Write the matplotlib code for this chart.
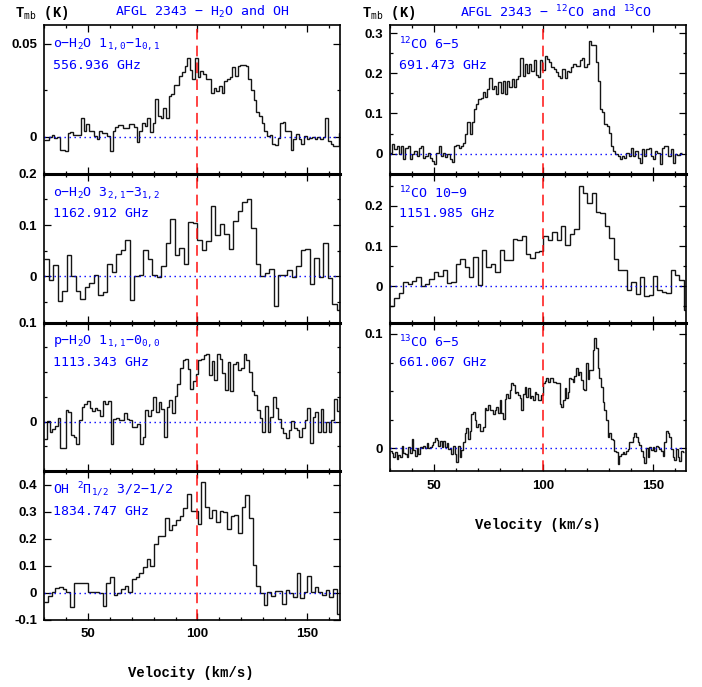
import numpy as np
import matplotlib
matplotlib.use("Agg")
import matplotlib.pyplot as plt
from matplotlib.ticker import MultipleLocator, FuncFormatter

plt.rcParams['font.family'] = ['DejaVu Sans Mono', 'DejaVu Sans']
plt.rcParams['mathtext.fontset'] = 'custom'
plt.rcParams['mathtext.rm'] = 'DejaVu Sans Mono'
plt.rcParams['mathtext.it'] = 'DejaVu Sans Mono'
plt.rcParams['mathtext.bf'] = 'DejaVu Sans Mono:bold'

# ---------------- spectra (main-beam temperature, K) ----------------
# each spectrum: first channel edge (km/s), channel width (km/s), values

h2o_557_v0, h2o_557_dv = 29.85, 1.212
h2o_557 = [
    -0.002, -0.002, -0.0005, 0.001, -0.001, -0.0005, -0.007, -0.007, -0.008, 0.002,
    0.0025, 0.0007, 0.0007, 0.001, 0.010, 0.003, 0.0066, 0.003, 0.003, 0.0004,
    -0.0014, 0.003, 0.002, 0.002, 0.0004, -0.008, 0.003, 0.0054, 0.006, 0.006,
    0.0048, 0.0048, 0.0066, 0.0066, 0.005, -0.003, 0.003, 0.0075, 0.0057, 0.0098,
    0.0027, 0.0075, 0.0204, 0.011, 0.010, 0.0155, 0.010, 0.0218, 0.0227, 0.028,
    0.028, 0.0326, 0.0345, 0.038, 0.0424, 0.036, 0.031, 0.042, 0.032, 0.035,
    0.0336, 0.031, 0.031, 0.0236, 0.0263, 0.0245, 0.0272, 0.0236, 0.030, 0.031,
    0.032, 0.0372, 0.0327, 0.038, 0.0385, 0.0385, 0.038, 0.031, 0.025, 0.0197,
    0.013, 0.011, 0.0075, 0.003, 0.0004, 0.0007, -0.004, -0.0046, -0.001, 0.0075,
    0.0079, 0.003, 0.003, -0.007, -0.0014, 0.0013, -0.0014, -0.004, 0.0004, -0.0014,
    -0.001, -0.0005, -0.0014, -0.0005, -0.0014, 0.0, 0.010, -0.0023, -0.004, -0.005,
    -0.005, 0.002]

h2o_1163_v0, h2o_1163_dv = 30.15, 2.053
h2o_1163 = [
    0.034, -0.0065, 0.023, -0.049, -0.028, 0.042, 0.0, -0.029, -0.045, -0.021,
    -0.013, 0.003, -0.036, -0.031, 0.025, 0.0084, 0.044, 0.052, 0.071, -0.047,
    0.0, 0.002, 0.052, 0.034, 0.002, -0.001, 0.021, 0.065, 0.112, 0.041,
    0.055, 0.025, 0.105, 0.104, 0.071, 0.051, 0.069, 0.138, 0.080, 0.102,
    0.083, 0.053, 0.108, 0.128, 0.144, 0.151, 0.094, 0.024, 0.001, 0.006,
    0.014, -0.058, 0.003, 0.002, 0.013, -0.001, 0.021, 0.051, 0.053, -0.015,
    0.036, -0.001, 0.065, -0.003, -0.054, -0.066]

h2o_1113_v0, h2o_1113_dv = 30.15, 1.212
h2o_1113 = [
    -0.0177, 0.001, -0.010, -0.007, -0.004, 0.004, -0.027, -0.027, 0.0117, 0.010,
    -0.013, -0.015, -0.023, 0.002, 0.0143, 0.0177, 0.0207, 0.014, 0.011, 0.014,
    0.012, 0.006, 0.021, 0.018, 0.021, -0.023, 0.003, 0.004, 0.002, 0.0017,
    0.0083, 0.0027, 0.0017, -0.0057, -0.005, -0.0023, -0.023, -0.015, 0.0117, 0.0057,
    0.0117, 0.025, 0.010, 0.020, 0.0123, -0.0157, 0.015, 0.0217, 0.0083, 0.0257,
    0.0377, 0.054, 0.0617, 0.063, 0.053, 0.033, 0.041, 0.048, 0.062, 0.063,
    0.067, 0.068, 0.047, 0.061, 0.0417, 0.068, 0.063, 0.049, 0.0317, 0.060,
    0.031, 0.0577, 0.060, 0.052, 0.054, 0.068, 0.0617, 0.050, 0.031, 0.0267,
    0.0117, 0.0033, -0.010, 0.0157, -0.010, 0.005, 0.025, 0.0133, 0.0027, -0.0067,
    -0.0117, -0.0167, -0.0083, 0.001, -0.0067, -0.0083, -0.015, -0.0067, 0.0017, 0.0133,
    -0.0217, 0.005, 0.010, -0.010, 0.0123, -0.010, 0.0, -0.010, 0.0017, 0.0233,
    0.011]

oh_1835_v0, oh_1835_dv = 30.15, 1.667
oh_1835 = [
    -0.033, -0.010, 0.004, 0.018, 0.022, 0.015, 0.005, -0.052, 0.035, 0.037,
    0.037, 0.035, 0.004, 0.004, 0.003, 0.0, -0.050, 0.035, 0.060, -0.009,
    0.0, 0.016, 0.025, 0.004, 0.053, 0.060, 0.072, 0.097, 0.124, 0.100,
    0.180, 0.210, 0.210, 0.276, 0.233, 0.250, 0.270, 0.285, 0.313, 0.365,
    0.303, 0.303, 0.255, 0.410, 0.317, 0.276, 0.307, 0.264, 0.303, 0.300,
    0.236, 0.286, 0.289, 0.220, 0.317, 0.363, 0.276, 0.103, 0.025, 0.0,
    -0.046, 0.004, -0.012, 0.007, 0.007, -0.040, 0.010, 0.001, -0.015, 0.072,
    -0.019, 0.004, 0.062, 0.004, 0.022, 0.003, -0.006, 0.010, -0.015, 0.015,
    -0.077]

co65_v0, co65_dv = 30.0, 1.008
co65 = [
    0.0025, 0.025, 0.0108, 0.0192, -0.0017, 0.0192, -0.0142, 0.015, 0.0192, -0.0142,
    -0.0017, 0.0067, -0.0058, 0.015, 0.0192, -0.010, -0.0058, 0.0025, -0.010, -0.0183,
    -0.0267, 0.0025, 0.0192, -0.0058, 0.0008, -0.0075, -0.0017, -0.0142, -0.020, 0.0192,
    0.0208, 0.015, 0.0192, 0.0275, 0.0483, 0.0775, 0.0483, 0.0792, 0.1108, 0.1233,
    0.1358, 0.1375, 0.1525, 0.140, 0.1608, 0.1883, 0.1608, 0.1692, 0.1483, 0.1775,
    0.150, 0.1817, 0.1483, 0.1817, 0.165, 0.1858, 0.165, 0.1858, 0.1925, 0.2375,
    0.1942, 0.2233, 0.200, 0.2233, 0.2067, 0.2333, 0.1958, 0.190, 0.2317, 0.2092,
    0.2425, 0.2358, 0.2275, 0.2167, 0.2108, 0.2025, 0.1925, 0.1883, 0.2108, 0.1883,
    0.2067, 0.2025, 0.215, 0.2233, 0.2175, 0.2192, 0.2317, 0.2375, 0.215, 0.2233,
    0.2792, 0.2708, 0.2692, 0.2275, 0.1817, 0.1108, 0.1025, 0.0733, 0.0692, 0.0525,
    0.0192, 0.0067, -0.0017, -0.0058, -0.0142, -0.0058, -0.010, 0.0025, -0.0058, 0.015,
    -0.0058, 0.0067, -0.010, -0.0225, 0.0108, -0.0058, 0.0108, 0.015, -0.0058, -0.0142,
    0.0067, 0.0008, -0.0267, 0.015, 0.0192, 0.0192, -0.0058, 0.0125, -0.0225, -0.0017,
    -0.0042, 0.0025]

co109_v0, co109_dv = 30.0, 2.0
co109 = [
    -0.050, -0.030, -0.017, 0.011, 0.007, 0.012, 0.022, 0.0, 0.006, 0.017,
    0.035, 0.025, 0.041, 0.008, 0.010, 0.056, 0.068, 0.048, 0.023, 0.074,
    0.004, 0.091, 0.048, 0.056, 0.035, 0.091, 0.066, 0.066, 0.118, 0.116,
    0.124, 0.080, 0.071, 0.085, 0.089, 0.124, 0.116, 0.136, 0.114, 0.150,
    0.103, 0.130, 0.142, 0.250, 0.233, 0.207, 0.231, 0.186, 0.183, 0.150,
    0.120, 0.069, 0.041, 0.040, -0.008, 0.010, -0.018, 0.023, -0.023, -0.022,
    0.025, -0.008, -0.014, -0.016, 0.041, 0.029, 0.015, -0.058]

c13o65_v0, c13o65_dv = 30.0, 0.758
c13o65 = [
    -0.0021, -0.0044, -0.0079, -0.0035, -0.0094, -0.0056, -0.0079, 0.0024, -0.0044, -0.005,
    -0.0079, 0.0009, -0.0044, 0.0082, -0.0015, -0.0065, 0.0003, -0.005, 0.0009, 0.0003,
    0.0024, 0.0, 0.0044, 0.0, 0.0015, 0.0032, 0.0053, 0.0091, 0.0076, 0.0024,
    0.0068, 0.0009, 0.0068, 0.0009, 0.0044, -0.0006, 0.0003, -0.005, 0.0024, -0.005,
    -0.0118, 0.0024, -0.0079, -0.0015, 0.0053, 0.0132, 0.0179, 0.0082, 0.0156, 0.0297,
    0.0318, 0.0244, 0.0185, 0.0215, 0.015, 0.015, 0.0191, 0.0353, 0.0332, 0.0376,
    0.0338, 0.0332, 0.0297, 0.0332, 0.0362, 0.0309, 0.0421, 0.0309, 0.0259, 0.0435,
    0.0479, 0.0444, 0.0509, 0.0574, 0.0553, 0.0485, 0.0494, 0.0465, 0.0444, 0.0338,
    0.0479, 0.0532, 0.045, 0.0524, 0.0444, 0.0456, 0.0421, 0.0494, 0.0479, 0.0426,
    0.0426, 0.0465, 0.0574, 0.0591, 0.0612, 0.0582, 0.0618, 0.0612, 0.0582, 0.0582,
    0.0568, 0.0568, 0.0391, 0.0362, 0.0421, 0.0524, 0.0444, 0.0494, 0.0612, 0.0603,
    0.0582, 0.0632, 0.0706, 0.0641, 0.0671, 0.0597, 0.0518, 0.0509, 0.0744, 0.0603,
    0.0685, 0.0685, 0.0862, 0.0965, 0.0876, 0.070, 0.0612, 0.0532, 0.0406, 0.0332,
    0.0244, 0.0097, 0.0132, 0.0082, 0.0074, -0.0021, -0.0035, -0.0138, -0.0065, -0.005,
    -0.0035, -0.005, -0.0021, -0.0006, 0.0053, 0.0059, 0.0097, 0.0135, 0.0097, 0.0053,
    0.0032, -0.0021, -0.0079, -0.0124, 0.0003, -0.0074, 0.0009, -0.0015, 0.0009, -0.0021,
    0.0024, 0.0009, -0.0006, -0.0021, -0.0065, 0.0053, 0.015, 0.0132, 0.0097, -0.0006,
    -0.0079, -0.0103, -0.0006, -0.0079, -0.0109, -0.0021, -0.0035]

# ---------------- line labels ----------------
left_labels = ['o\u2212H$_2$O 1$_{1,0}$\u22121$_{0,1}$',
               'o\u2212H$_2$O 3$_{2,1}$\u22123$_{1,2}$',
               'p\u2212H$_2$O 1$_{1,1}$\u22120$_{0,0}$',
               'OH $^2\\Pi_{1/2}$ 3/2\u22121/2']
left_freqs = ['556.936 GHz', '1162.912 GHz', '1113.343 GHz', '1834.747 GHz']
right_labels = ['$^{12}$CO 6\u22125', '$^{12}$CO 10\u22129', '$^{13}$CO 6\u22125']
right_freqs = ['691.473 GHz', '1151.985 GHz', '661.067 GHz']

v_sys = 100.0
v_range = (30.0, 165.0)

left_spectra = [(h2o_557, h2o_557_v0, h2o_557_dv),
                (h2o_1163, h2o_1163_v0, h2o_1163_dv),
                (h2o_1113, h2o_1113_v0, h2o_1113_dv),
                (oh_1835, oh_1835_v0, oh_1835_dv)]
right_spectra = [(co65, co65_v0, co65_dv),
                 (co109, co109_v0, co109_dv),
                 (c13o65, c13o65_v0, c13o65_dv)]

# y limits, major / minor tick steps for each panel
left_axes_cfg = [((-0.02, 0.06), 0.05, 0.025),
                 ((-0.09, 0.20), 0.1, 0.05),
                 ((-0.05, 0.10), 0.1, 0.025),
                 ((-0.10, 0.45), 0.1, 0.1)]
right_axes_cfg = [((-0.05, 0.32), 0.1, 0.05),
                  ((-0.09, 0.28), 0.1, 0.05),
                  ((-0.02, 0.11), 0.1, 0.025)]

BLUE = '#0000ff'
W, H = 702, 687
fig = plt.figure(figsize=(W / 100, H / 100), dpi=100)

TICK_FONT = dict(family='Liberation Sans', weight='bold', size=9.5)


def fmt(v, pos):
    v = round(v, 4)
    if abs(v) < 1e-9:
        return '0'
    return ('%g' % v)


def panel(x_px, top_px, h_px, spec, cfg, label, freq, first, last):
    vals, v0, dv = spec
    ylim, major, minor = cfg
    ax = fig.add_axes([x_px / W, 1 - (top_px + h_px) / H, 296 / W, h_px / H])
    edges = v0 + dv * np.arange(len(vals) + 1)
    ax.stairs(vals, edges, baseline=None, color='#151515', lw=1.0)
    ax.axhline(0, color=BLUE, ls=(0, (1, 2.6)), lw=1.0)
    ax.axvline(v_sys, color='#ff1010', ls=(0, (7, 4)), lw=1.1)
    ax.set_xlim(*v_range)
    ax.set_ylim(*ylim)
    ax.xaxis.set_major_locator(MultipleLocator(50))
    ax.xaxis.set_minor_locator(MultipleLocator(10))
    ax.yaxis.set_major_locator(MultipleLocator(major))
    ax.yaxis.set_minor_locator(MultipleLocator(minor))
    ax.yaxis.set_major_formatter(FuncFormatter(fmt))
    ax.tick_params(which='both', direction='in', top=True, right=True,
                   width=0.9, colors='black')
    ax.tick_params(which='major', length=5)
    ax.tick_params(which='minor', length=2.5)
    ax.tick_params(axis='y', pad=5)
    ax.tick_params(axis='x', pad=6, labelbottom=last)
    for s in ax.spines.values():
        s.set_linewidth(1.2)
    if not first:
        ax.spines['top'].set_linewidth(2.2)
    plt.setp(ax.get_yticklabels(), **TICK_FONT)
    plt.setp(ax.get_xticklabels(), **TICK_FONT)
    ax.text(0.03, 0.872, label, transform=ax.transAxes, color=BLUE,
            fontsize=9.5, va='center', ha='left')
    ax.text(0.03, 0.73, freq, transform=ax.transAxes, color=BLUE,
            fontsize=9.5, va='center', ha='left')
    return ax


top0, ph = 25.0, 148.75
for k in range(4):
    panel(44, top0 + k * ph, ph, left_spectra[k], left_axes_cfg[k],
          left_labels[k], left_freqs[k], k == 0, k == 3)
for k in range(3):
    panel(390, top0 + k * ph, ph, right_spectra[k], right_axes_cfg[k],
          right_labels[k], right_freqs[k], k == 0, k == 2)

AX_FONT = dict(family=['Liberation Mono', 'DejaVu Sans'], weight='bold', size=10)
fig.text(15 / W, 1 - 13 / H, 'T$_{\\mathrm{mb}}$ (K)', va='center', ha='left', **AX_FONT)
fig.text(362 / W, 1 - 13 / H, 'T$_{\\mathrm{mb}}$ (K)', va='center', ha='left', **AX_FONT)
fig.text(202 / W, 1 - 12 / H, 'AFGL 2343 \u2212 H$_2$O and OH', color=BLUE,
         fontsize=9.5, va='center', ha='center')
fig.text(556 / W, 1 - 12 / H, 'AFGL 2343 \u2212 $^{12}$CO and $^{13}$CO', color=BLUE,
         fontsize=9.5, va='center', ha='center')
fig.text(191 / W, 1 - 673 / H, 'Velocity (km/s)', va='center', ha='center', **AX_FONT)
fig.text(538 / W, 1 - 525 / H, 'Velocity (km/s)', va='center', ha='center', **AX_FONT)

fig.savefig('out.png', dpi=100)
